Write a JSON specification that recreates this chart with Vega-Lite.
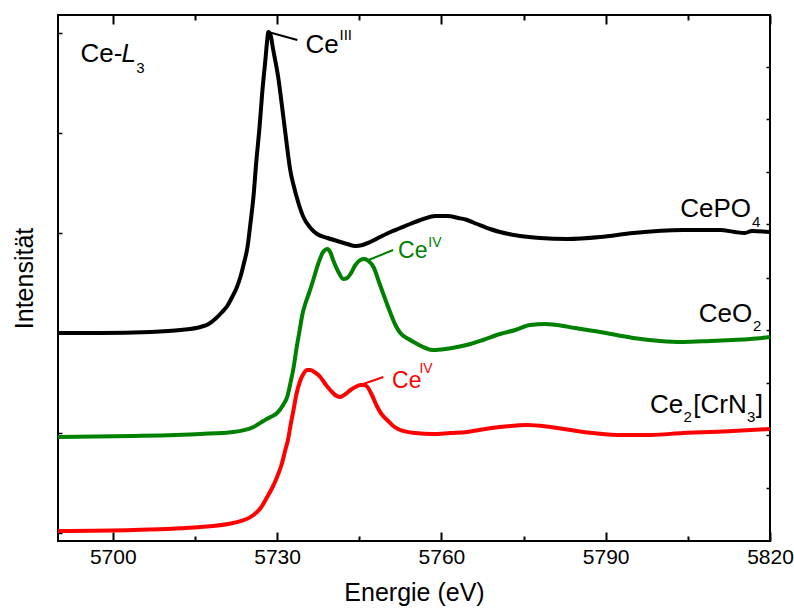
{
  "$schema": "https://vega.github.io/schema/vega-lite/v6.json",
  "width": 712,
  "height": 526,
  "autosize": {"type": "none"},
  "padding": {"left": 58, "top": 15, "right": 24, "bottom": 73},
  "config": {
    "font": "Liberation Sans",
    "view": {"stroke": "#000000", "strokeWidth": 2},
    "axis": {"grid": false, "domain": false, "labelColor": "#000000", "titleColor": "#000000", "tickColor": "#000000"}
  },
  "datasets": {
    "spectra": [
      {"s":"CePO4","E":5690,"I":2.00},{"s":"CePO4","E":5697.75,"I":2.00},{"s":"CePO4","E":5706.9,"I":2.01},{"s":"CePO4","E":5712.4,"I":2.03},{"s":"CePO4","E":5716.0,"I":2.06},{"s":"CePO4","E":5717.5,"I":2.09},{"s":"CePO4","E":5718.7,"I":2.14},{"s":"CePO4","E":5719.8,"I":2.20},{"s":"CePO4","E":5720.9,"I":2.27},{"s":"CePO4","E":5721.8,"I":2.36},{"s":"CePO4","E":5722.6,"I":2.45},{"s":"CePO4","E":5723.3,"I":2.56},{"s":"CePO4","E":5724.0,"I":2.71},{"s":"CePO4","E":5724.6,"I":2.86},{"s":"CePO4","E":5725.1,"I":3.08},{"s":"CePO4","E":5725.7,"I":3.37},{"s":"CePO4","E":5726.2,"I":3.71},{"s":"CePO4","E":5726.8,"I":4.06},{"s":"CePO4","E":5727.3,"I":4.41},{"s":"CePO4","E":5727.9,"I":4.75},{"s":"CePO4","E":5728.2,"I":4.93},{"s":"CePO4","E":5728.4,"I":5.01},{"s":"CePO4","E":5728.8,"I":4.98},{"s":"CePO4","E":5729.3,"I":4.83},{"s":"CePO4","E":5730.2,"I":4.56},{"s":"CePO4","E":5731.1,"I":4.18},{"s":"CePO4","E":5731.9,"I":3.83},{"s":"CePO4","E":5732.4,"I":3.63},{"s":"CePO4","E":5733.0,"I":3.48},{"s":"CePO4","E":5733.9,"I":3.30},{"s":"CePO4","E":5734.8,"I":3.16},{"s":"CePO4","E":5736.1,"I":3.05},{"s":"CePO4","E":5737.3,"I":2.99},{"s":"CePO4","E":5739.2,"I":2.95},{"s":"CePO4","E":5741.0,"I":2.92},{"s":"CePO4","E":5742.8,"I":2.89},{"s":"CePO4","E":5744.3,"I":2.87},{"s":"CePO4","E":5745.6,"I":2.88},{"s":"CePO4","E":5747.0,"I":2.91},{"s":"CePO4","E":5748.8,"I":2.96},{"s":"CePO4","E":5750.7,"I":3.01},{"s":"CePO4","E":5752.5,"I":3.05},{"s":"CePO4","E":5754.3,"I":3.09},{"s":"CePO4","E":5756.7,"I":3.14},{"s":"CePO4","E":5758.9,"I":3.17},{"s":"CePO4","E":5761.1,"I":3.17},{"s":"CePO4","E":5763.1,"I":3.15},{"s":"CePO4","E":5764.7,"I":3.13},{"s":"CePO4","E":5766.5,"I":3.09},{"s":"CePO4","E":5768.9,"I":3.04},{"s":"CePO4","E":5770.7,"I":3.01},{"s":"CePO4","E":5774.4,"I":2.97},{"s":"CePO4","E":5778.0,"I":2.95},{"s":"CePO4","E":5783.0,"I":2.94},{"s":"CePO4","E":5789.0,"I":2.96},{"s":"CePO4","E":5795.0,"I":3.00},{"s":"CePO4","E":5804.1,"I":3.03},{"s":"CePO4","E":5810.9,"I":3.03},{"s":"CePO4","E":5813.6,"I":3.01},{"s":"CePO4","E":5815.4,"I":3.00},{"s":"CePO4","E":5816.7,"I":3.02},{"s":"CePO4","E":5820,"I":3.01},
      {"s":"CeO2","E":5690,"I":0.96},{"s":"CeO2","E":5703.8,"I":0.97},{"s":"CeO2","E":5716.0,"I":0.99},{"s":"CeO2","E":5722.0,"I":1.01},{"s":"CeO2","E":5725.7,"I":1.06},{"s":"CeO2","E":5727.5,"I":1.12},{"s":"CeO2","E":5728.8,"I":1.16},{"s":"CeO2","E":5730.0,"I":1.20},{"s":"CeO2","E":5731.1,"I":1.28},{"s":"CeO2","E":5731.9,"I":1.37},{"s":"CeO2","E":5732.4,"I":1.49},{"s":"CeO2","E":5733.0,"I":1.65},{"s":"CeO2","E":5733.5,"I":1.83},{"s":"CeO2","E":5734.1,"I":2.02},{"s":"CeO2","E":5734.6,"I":2.18},{"s":"CeO2","E":5735.2,"I":2.30},{"s":"CeO2","E":5735.9,"I":2.41},{"s":"CeO2","E":5736.6,"I":2.53},{"s":"CeO2","E":5737.5,"I":2.69},{"s":"CeO2","E":5738.4,"I":2.81},{"s":"CeO2","E":5739.2,"I":2.84},{"s":"CeO2","E":5739.7,"I":2.81},{"s":"CeO2","E":5740.3,"I":2.72},{"s":"CeO2","E":5741.2,"I":2.61},{"s":"CeO2","E":5742.1,"I":2.54},{"s":"CeO2","E":5742.8,"I":2.55},{"s":"CeO2","E":5743.4,"I":2.59},{"s":"CeO2","E":5744.3,"I":2.68},{"s":"CeO2","E":5745.2,"I":2.73},{"s":"CeO2","E":5745.9,"I":2.74},{"s":"CeO2","E":5746.7,"I":2.72},{"s":"CeO2","E":5747.6,"I":2.66},{"s":"CeO2","E":5748.8,"I":2.48},{"s":"CeO2","E":5749.8,"I":2.33},{"s":"CeO2","E":5750.7,"I":2.20},{"s":"CeO2","E":5751.6,"I":2.08},{"s":"CeO2","E":5752.5,"I":2.00},{"s":"CeO2","E":5754.0,"I":1.94},{"s":"CeO2","E":5755.6,"I":1.89},{"s":"CeO2","E":5757.1,"I":1.85},{"s":"CeO2","E":5758.5,"I":1.83},{"s":"CeO2","E":5760.7,"I":1.84},{"s":"CeO2","E":5762.9,"I":1.86},{"s":"CeO2","E":5765.3,"I":1.89},{"s":"CeO2","E":5767.6,"I":1.93},{"s":"CeO2","E":5770.7,"I":1.99},{"s":"CeO2","E":5773.5,"I":2.03},{"s":"CeO2","E":5776.2,"I":2.08},{"s":"CeO2","E":5779.0,"I":2.09},{"s":"CeO2","E":5781.1,"I":2.08},{"s":"CeO2","E":5784.4,"I":2.05},{"s":"CeO2","E":5789.0,"I":2.01},{"s":"CeO2","E":5795.0,"I":1.95},{"s":"CeO2","E":5799.9,"I":1.92},{"s":"CeO2","E":5804.1,"I":1.91},{"s":"CeO2","E":5809.1,"I":1.92},{"s":"CeO2","E":5813.2,"I":1.93},{"s":"CeO2","E":5816.4,"I":1.94},{"s":"CeO2","E":5820,"I":1.96},
      {"s":"Ce2[CrN3]","E":5690,"I":0.02},{"s":"Ce2[CrN3]","E":5703.8,"I":0.03},{"s":"Ce2[CrN3]","E":5716.0,"I":0.06},{"s":"Ce2[CrN3]","E":5722.0,"I":0.10},{"s":"Ce2[CrN3]","E":5725.7,"I":0.18},{"s":"Ce2[CrN3]","E":5727.0,"I":0.25},{"s":"Ce2[CrN3]","E":5728.2,"I":0.36},{"s":"Ce2[CrN3]","E":5729.1,"I":0.45},{"s":"Ce2[CrN3]","E":5730.0,"I":0.56},{"s":"Ce2[CrN3]","E":5730.8,"I":0.68},{"s":"Ce2[CrN3]","E":5731.5,"I":0.83},{"s":"Ce2[CrN3]","E":5732.1,"I":0.96},{"s":"Ce2[CrN3]","E":5732.4,"I":1.06},{"s":"Ce2[CrN3]","E":5733.0,"I":1.23},{"s":"Ce2[CrN3]","E":5733.5,"I":1.38},{"s":"Ce2[CrN3]","E":5734.2,"I":1.52},{"s":"Ce2[CrN3]","E":5734.8,"I":1.59},{"s":"Ce2[CrN3]","E":5735.5,"I":1.63},{"s":"Ce2[CrN3]","E":5736.1,"I":1.63},{"s":"Ce2[CrN3]","E":5736.8,"I":1.61},{"s":"Ce2[CrN3]","E":5737.9,"I":1.56},{"s":"Ce2[CrN3]","E":5738.8,"I":1.49},{"s":"Ce2[CrN3]","E":5739.7,"I":1.43},{"s":"Ce2[CrN3]","E":5740.6,"I":1.38},{"s":"Ce2[CrN3]","E":5741.5,"I":1.36},{"s":"Ce2[CrN3]","E":5742.5,"I":1.39},{"s":"Ce2[CrN3]","E":5743.4,"I":1.43},{"s":"Ce2[CrN3]","E":5744.3,"I":1.46},{"s":"Ce2[CrN3]","E":5745.2,"I":1.48},{"s":"Ce2[CrN3]","E":5745.9,"I":1.48},{"s":"Ce2[CrN3]","E":5746.5,"I":1.46},{"s":"Ce2[CrN3]","E":5747.4,"I":1.37},{"s":"Ce2[CrN3]","E":5748.3,"I":1.26},{"s":"Ce2[CrN3]","E":5749.2,"I":1.18},{"s":"Ce2[CrN3]","E":5750.1,"I":1.13},{"s":"Ce2[CrN3]","E":5751.2,"I":1.07},{"s":"Ce2[CrN3]","E":5752.5,"I":1.03},{"s":"Ce2[CrN3]","E":5755.2,"I":1.00},{"s":"Ce2[CrN3]","E":5758.5,"I":0.99},{"s":"Ce2[CrN3]","E":5761.6,"I":1.00},{"s":"Ce2[CrN3]","E":5764.7,"I":1.01},{"s":"Ce2[CrN3]","E":5768.0,"I":1.04},{"s":"Ce2[CrN3]","E":5770.7,"I":1.06},{"s":"Ce2[CrN3]","E":5775.7,"I":1.08},{"s":"Ce2[CrN3]","E":5779.9,"I":1.06},{"s":"Ce2[CrN3]","E":5785.9,"I":1.01},{"s":"Ce2[CrN3]","E":5792.1,"I":0.98},{"s":"Ce2[CrN3]","E":5798.1,"I":0.98},{"s":"Ce2[CrN3]","E":5804.1,"I":1.00},{"s":"Ce2[CrN3]","E":5813.2,"I":1.02},{"s":"Ce2[CrN3]","E":5820,"I":1.04}
    ],
    "leaders": [
      {"s":"CePO4","x1":5728.4,"y1":5.01,"x2":5733.7,"y2":4.93},
      {"s":"CeO2","x1":5746.7,"y1":2.73,"x2":5751.2,"y2":2.83},
      {"s":"Ce2[CrN3]","x1":5745.2,"y1":1.48,"x2":5749.4,"y2":1.56}
    ],
    "bigText": [
      {"t":"Ce-","E":5694.1,"I":4.71},
      {"t":"Ce","E":5735.2,"I":4.80},
      {"t":"CePO","E":5803.6,"I":3.16},
      {"t":"CeO","E":5807.0,"I":2.11},
      {"t":"Ce","E":5798.1,"I":1.20},
      {"t":"[CrN","E":5806.0,"I":1.20},
      {"t":"]","E":5817.4,"I":1.20}
    ],
    "smallText": [
      {"t":"3","E":5704.3,"I":4.60},
      {"t":"III","E":5741.4,"I":4.93},
      {"t":"4","E":5816.7,"I":3.06},
      {"t":"2","E":5816.9,"I":2.02},
      {"t":"2","E":5804.2,"I":1.11},
      {"t":"3","E":5815.8,"I":1.11}
    ],
    "italicText": [
      {"t":"L","E":5701.6,"I":4.71}
    ],
    "ivText": [
      {"s":"CeO2","t":"Ce","E":5752.1,"I":2.75},
      {"s":"Ce2[CrN3]","t":"Ce","E":5751.0,"I":1.45}
    ],
    "ivSup": [
      {"s":"CeO2","t":"IV","E":5757.6,"I":2.86},
      {"s":"Ce2[CrN3]","t":"IV","E":5756.0,"I":1.60}
    ]
  },
  "layer": [
    {
      "data": {"name": "spectra"},
      "mark": {"type": "line", "strokeWidth": 4, "interpolate": "monotone"},
      "encoding": {
        "x": {"field": "E", "type": "quantitative", "scale": {"domain": [5690, 5820], "nice": false, "zero": false},
          "axis": {"orient": "bottom", "values": [5700,5715,5730,5745,5760,5775,5790,5805,5820], "format": "d",
            "labelExpr": "datum.value % 30 === 0 ? datum.label : ''", "labelFlush": false, "labelOverlap": false,
            "tickSize": {"condition": {"test": "datum.value % 30 === 0", "value": -9}, "value": -5}, "tickWidth": 2,
            "labelFontSize": 21, "labelPadding": 14, "title": "Energie (eV)", "titleFontSize": 25, "titleFontWeight": "normal", "titlePadding": 9}},
        "y": {"field": "I", "type": "quantitative", "scale": {"domain": [-0.08, 5.18], "nice": false, "zero": false},
          "axis": {"orient": "left", "values": [0,1,2,3,4,5], "labels": false, "tickSize": -4, "tickWidth": 1.5,
            "title": "Intensität", "titleFontSize": 25, "titleFontWeight": "normal", "titlePadding": 20}},
        "color": {"field": "s", "type": "nominal", "scale": {"domain": ["CePO4","CeO2","Ce2[CrN3]"], "range": ["#000000","#008000","#ff0000"]}, "legend": null}
      }
    },
    {
      "data": {"name": "leaders"},
      "mark": {"type": "rule", "strokeWidth": 2},
      "encoding": {
        "x": {"field": "x1", "type": "quantitative",
          "axis": {"orient": "top", "values": [5700,5715,5730,5745,5760,5775,5790,5805,5820], "labels": false, "title": null,
            "tickSize": {"condition": {"test": "datum.value % 30 === 0", "value": -9}, "value": -5}, "tickWidth": 2}},
        "x2": {"field": "x2"},
        "y": {"field": "y1", "type": "quantitative",
          "axis": {"orient": "right", "values": [0.45,0.98,1.50,2.03,2.55,3.09,3.61,4.14,4.66], "labels": false, "title": null, "tickSize": -4, "tickWidth": 1.5}},
        "y2": {"field": "y2"},
        "color": {"field": "s", "type": "nominal", "legend": null}
      }
    },
    {
      "data": {"name": "bigText"},
      "mark": {"type": "text", "align": "left", "baseline": "alphabetic", "fontSize": 26, "color": "#000000"},
      "encoding": {
        "x": {"field": "E", "type": "quantitative", "axis": null},
        "y": {"field": "I", "type": "quantitative", "axis": null},
        "text": {"field": "t"}
      }
    },
    {
      "data": {"name": "smallText"},
      "mark": {"type": "text", "align": "left", "baseline": "alphabetic", "fontSize": 15, "color": "#000000"},
      "encoding": {
        "x": {"field": "E", "type": "quantitative", "axis": null},
        "y": {"field": "I", "type": "quantitative", "axis": null},
        "text": {"field": "t"}
      }
    },
    {
      "data": {"name": "italicText"},
      "mark": {"type": "text", "align": "left", "baseline": "alphabetic", "fontSize": 26, "fontStyle": "italic", "color": "#000000"},
      "encoding": {
        "x": {"field": "E", "type": "quantitative", "axis": null},
        "y": {"field": "I", "type": "quantitative", "axis": null},
        "text": {"field": "t"}
      }
    },
    {
      "data": {"name": "ivText"},
      "mark": {"type": "text", "align": "left", "baseline": "alphabetic", "fontSize": 23},
      "encoding": {
        "x": {"field": "E", "type": "quantitative", "axis": null},
        "y": {"field": "I", "type": "quantitative", "axis": null},
        "text": {"field": "t"},
        "color": {"field": "s", "type": "nominal", "legend": null}
      }
    },
    {
      "data": {"name": "ivSup"},
      "mark": {"type": "text", "align": "left", "baseline": "alphabetic", "fontSize": 14},
      "encoding": {
        "x": {"field": "E", "type": "quantitative", "axis": null},
        "y": {"field": "I", "type": "quantitative", "axis": null},
        "text": {"field": "t"},
        "color": {"field": "s", "type": "nominal", "legend": null}
      }
    }
  ],
  "resolve": {"axis": {"x": "independent", "y": "independent"}}
}
